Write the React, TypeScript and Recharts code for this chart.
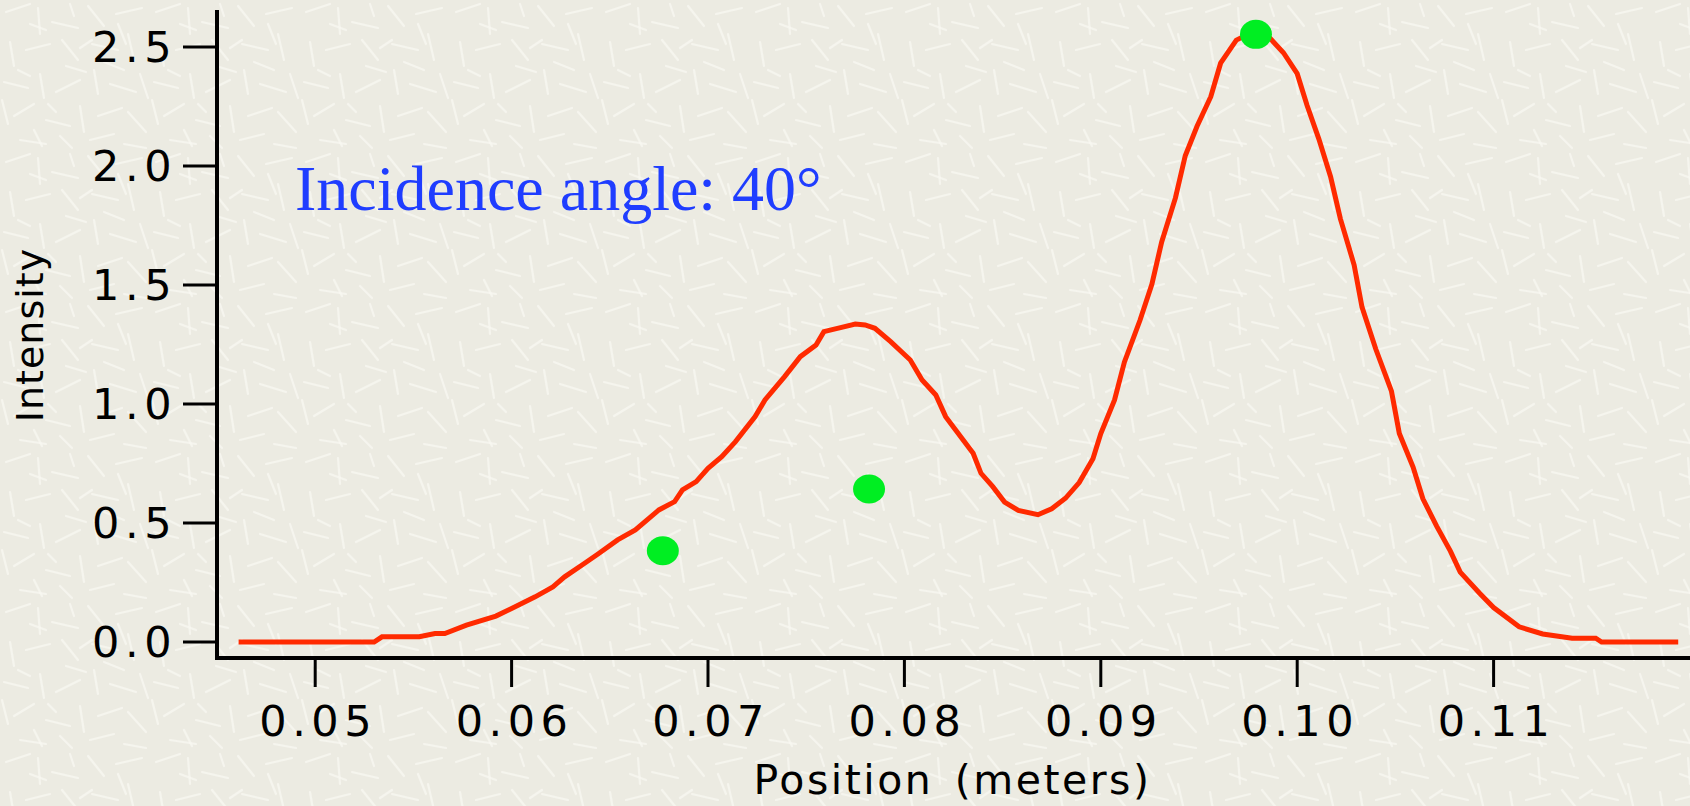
import React from 'react';
import { ComposedChart, Line, Scatter, XAxis, YAxis, Label } from 'recharts';

// measured curve, position in meters / intensity
const positions = [
  0.0461, 0.053, 0.0534, 0.0553, 0.0561, 0.0566, 0.0577, 0.0592, 0.06, 0.0612,
  0.0621, 0.0627, 0.0637, 0.0644, 0.0654, 0.0663, 0.0675, 0.0683, 0.0687, 0.0694,
  0.07, 0.0707, 0.0714, 0.0724, 0.0729, 0.0739, 0.0747, 0.0755, 0.0759, 0.0768,
  0.0775, 0.078, 0.0785, 0.0793, 0.0803, 0.0809, 0.0816, 0.0821, 0.0828, 0.0835,
  0.0839, 0.0845, 0.0851, 0.0858, 0.0868, 0.0875, 0.0882, 0.0889, 0.0896, 0.09,
  0.0907, 0.0912, 0.092, 0.0926, 0.0931, 0.0938, 0.0943, 0.0949, 0.0956, 0.0961,
  0.0969, 0.0978, 0.0986, 0.0993, 0.1, 0.1005, 0.1011, 0.1017, 0.1022, 0.1029,
  0.1033, 0.104, 0.1048, 0.1052, 0.1059, 0.1064, 0.1071, 0.1078, 0.1083, 0.1093,
  0.11, 0.1113, 0.1125, 0.114, 0.1152, 0.1155, 0.1194,
];
const intensity = [
  0, 0, 0.022, 0.022, 0.036, 0.036, 0.071, 0.109, 0.141, 0.19,
  0.232, 0.274, 0.33, 0.37, 0.429, 0.471, 0.555, 0.59, 0.639, 0.674,
  0.73, 0.779, 0.842, 0.947, 1.017, 1.115, 1.199, 1.248, 1.304, 1.322,
  1.336, 1.332, 1.318, 1.262, 1.185, 1.101, 1.038, 0.947, 0.87, 0.793,
  0.709, 0.653, 0.588, 0.553, 0.535, 0.56, 0.604, 0.67, 0.77, 0.876,
  1.017, 1.176, 1.353, 1.503, 1.681, 1.866, 2.043, 2.167, 2.291, 2.432,
  2.529, 2.565, 2.538, 2.476, 2.388, 2.255, 2.114, 1.955, 1.778, 1.584,
  1.407, 1.231, 1.054, 0.876, 0.735, 0.602, 0.487, 0.382, 0.294, 0.204,
  0.145, 0.064, 0.034, 0.016, 0.016, 0, 0,
];

// green markers
const markPositions = [0.0677, 0.0782, 0.0979];
const markIntensity = [0.384, 0.643, 2.553];

const xTicks = [0.05, 0.06, 0.07, 0.08, 0.09, 0.1, 0.11];
const yTicks = [0, 0.5, 1.0, 1.5, 2.0, 2.5];

const curve = positions.map((x, i) => ({ x, y: intensity[i] }));
const marks = markPositions.map((x, i) => ({ x, y: markIntensity[i] }));

// paper texture (short light scratches, one 150px tile)
const scratches = [
  [6, 12, 30, 4], [38, 8, 40, 34], [52, 22, 78, 28], [88, 6, 104, 26], [116, 14, 142, 8],
  [10, 42, 14, 66], [26, 50, 50, 44], [62, 40, 78, 60], [92, 44, 118, 50], [128, 34, 134, 60],
  [4, 82, 28, 88], [40, 74, 44, 98], [56, 92, 80, 80], [94, 70, 98, 94], [110, 84, 136, 92],
  [14, 116, 34, 104], [46, 120, 70, 126], [80, 106, 84, 132], [98, 116, 122, 108], [128, 112, 146, 132],
  [20, 140, 46, 144], [60, 136, 72, 148], [90, 140, 114, 134], [124, 144, 146, 148], [70, 4, 74, 16],
  [104, 62, 124, 70], [18, 70, 30, 76], [140, 74, 148, 98], [48, 104, 56, 112], [80, 48, 92, 40],
  [2, 100, 8, 124], [30, 24, 46, 30], [66, 66, 86, 72], [118, 24, 126, 44], [34, 130, 42, 146],
];
const textureSvg =
  `<svg xmlns="http://www.w3.org/2000/svg" width="150" height="150">` +
  scratches
    .map(([a, b, c, d]) => `<line x1="${a}" y1="${b}" x2="${c}" y2="${d}" stroke="#f9f8f2" stroke-width="2.2" stroke-linecap="round" opacity="0.75"/>`)
    .join('') +
  `</svg>`;
const texture = `url("data:image/svg+xml,${encodeURIComponent(textureSvg)}")`;

const tickFont = '"DejaVu Sans", Verdana, sans-serif';

const XTick = ({ x, y, payload }: any) => (
  <text x={x + 3} y={y + 47} textAnchor="middle" fontFamily={tickFont} fontSize={43} letterSpacing={5.5} fill="#000">
    {payload.value.toFixed(2)}
  </text>
);

const YTick = ({ x, y, payload }: any) => (
  <text x={x - 4} y={y + 15} textAnchor="end" fontFamily={tickFont} fontSize={43} letterSpacing={5.5} fill="#000">
    {payload.value.toFixed(1)}
  </text>
);

const Marker = ({ cx, cy }: any) => <ellipse cx={cx} cy={cy} rx={16} ry={14.5} fill="#00ee22" />;

const App: React.FC = () => {
  return (
    <div
      style={{
        position: 'absolute',
        left: 0,
        top: 0,
        width: 1690,
        height: 806,
        backgroundColor: '#ecebe2',
        backgroundImage: texture,
        overflow: 'hidden',
      }}
    >
      <ComposedChart width={1690} height={806} data={curve} margin={{ top: 12, right: 0, bottom: 0, left: 0 }}>
        <XAxis
          dataKey="x"
          type="number"
          domain={[0.045, 0.12]}
          ticks={xTicks}
          allowDataOverflow
          height={148}
          tickSize={29}
          axisLine={{ stroke: '#000', strokeWidth: 4, strokeLinecap: 'square' }}
          tickLine={{ stroke: '#000', strokeWidth: 3 }}
          tick={<XTick />}
        >
          <Label
            content={({ viewBox }: any) => (
              <text
                x={viewBox.x + viewBox.width / 2 - 1}
                y={viewBox.y + 136}
                textAnchor="middle"
                fontFamily={tickFont}
                fontSize={41}
                letterSpacing={2.5}
                wordSpacing={6}
                fill="#000"
              >
                Position (meters)
              </text>
            )}
          />
        </XAxis>
        <YAxis
          type="number"
          domain={[-0.067, 2.647]}
          ticks={yTicks}
          allowDataOverflow
          width={217}
          tickSize={34}
          axisLine={{ stroke: '#000', strokeWidth: 4, strokeLinecap: 'square' }}
          tickLine={{ stroke: '#000', strokeWidth: 3 }}
          tick={<YTick />}
        >
          <Label
            content={({ viewBox }: any) => {
              const cy = viewBox.y + 323;
              return (
                <text
                  x={43}
                  y={cy}
                  transform={`rotate(-90, 43, ${cy})`}
                  textAnchor="middle"
                  fontFamily={tickFont}
                  fontSize={38}
                  letterSpacing={1}
                  fill="#000"
                >
                  Intensity
                </text>
              );
            }}
          />
        </YAxis>
        <Line
          dataKey="y"
          type="linear"
          stroke="#ff2a00"
          strokeWidth={5}
          dot={false}
          activeDot={false}
          isAnimationActive={false}
        />
        <Scatter data={marks} dataKey="y" shape={<Marker />} isAnimationActive={false} />
      </ComposedChart>
      <svg
        width={1690}
        height={806}
        style={{ position: 'absolute', left: 0, top: 0, pointerEvents: 'none' }}
      >
        <text x={295} y={210} fontFamily='"Liberation Serif", "Times New Roman", serif' fontSize={64} fill="#1f3dff">
          Incidence angle: 40°
        </text>
      </svg>
    </div>
  );
};

export default App;
